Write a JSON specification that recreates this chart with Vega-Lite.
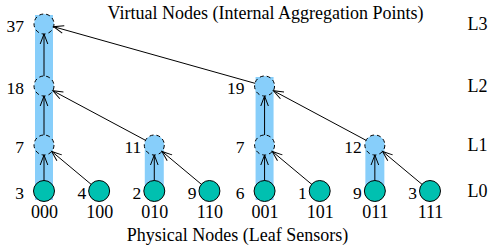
{
  "$schema": "https://vega.github.io/schema/vega-lite/v6.json",
  "width": 467,
  "height": 200,
  "autosize": "none",
  "padding": {"left": 0, "top": 0, "right": 21, "bottom": 49},
  "background": "white",
  "config": {"view": {"stroke": null}, "font": "Liberation Serif"},
  "title": {
    "text": "Virtual Nodes (Internal Aggregation Points)",
    "font": "Liberation Serif", "fontSize": 18, "fontWeight": "normal", "color": "black",
    "anchor": "middle", "frame": "group", "dx": 32, "offset": -37, "baseline": "alphabetic"
  },
  "datasets": {
    "nodes": [
      {"col": "000", "lvl": 0, "v": 3}, {"col": "100", "lvl": 0, "v": 4},
      {"col": "010", "lvl": 0, "v": 2}, {"col": "110", "lvl": 0, "v": 9},
      {"col": "001", "lvl": 0, "v": 6}, {"col": "101", "lvl": 0, "v": 1},
      {"col": "011", "lvl": 0, "v": 9}, {"col": "111", "lvl": 0, "v": 3},
      {"col": "000", "lvl": 1, "v": 7}, {"col": "010", "lvl": 1, "v": 11},
      {"col": "001", "lvl": 1, "v": 7}, {"col": "011", "lvl": 1, "v": 12},
      {"col": "000", "lvl": 2, "v": 18}, {"col": "001", "lvl": 2, "v": 19},
      {"col": "000", "lvl": 3, "v": 37}
    ],
    "edges": [
      {"col": "000", "lvl": 0, "pcol": "000", "plvl": 1},
      {"col": "100", "lvl": 0, "pcol": "000", "plvl": 1},
      {"col": "010", "lvl": 0, "pcol": "010", "plvl": 1},
      {"col": "110", "lvl": 0, "pcol": "010", "plvl": 1},
      {"col": "001", "lvl": 0, "pcol": "001", "plvl": 1},
      {"col": "101", "lvl": 0, "pcol": "001", "plvl": 1},
      {"col": "011", "lvl": 0, "pcol": "011", "plvl": 1},
      {"col": "111", "lvl": 0, "pcol": "011", "plvl": 1},
      {"col": "000", "lvl": 1, "pcol": "000", "plvl": 2},
      {"col": "010", "lvl": 1, "pcol": "000", "plvl": 2},
      {"col": "001", "lvl": 1, "pcol": "001", "plvl": 2},
      {"col": "011", "lvl": 1, "pcol": "001", "plvl": 2},
      {"col": "000", "lvl": 2, "pcol": "000", "plvl": 3},
      {"col": "001", "lvl": 2, "pcol": "000", "plvl": 3}
    ],
    "bars": [
      {"col": "000", "lvl": 0, "top": 3},
      {"col": "010", "lvl": 0, "top": 1},
      {"col": "001", "lvl": 0, "top": 2},
      {"col": "011", "lvl": 0, "top": 1}
    ]
  },
  "encoding": {
    "x": {
      "field": "col", "type": "nominal",
      "scale": {"type": "point", "padding": 0, "domain": ["000", "100", "010", "110", "001", "101", "011", "111"], "range": [44, 430]},
      "axis": {
        "title": "Physical Nodes (Leaf Sensors)", "domain": false, "ticks": false, "grid": false,
        "labelAngle": 0, "labelFont": "Liberation Serif", "labelFontSize": 18, "labelColor": "black",
        "labelPadding": 3, "titleFont": "Liberation Serif", "titleFontSize": 18,
        "titleFontWeight": "normal", "titleColor": "black", "titlePadding": 5
      }
    },
    "y": {
      "field": "lvl", "type": "quantitative",
      "scale": {"domain": [0, 1, 2, 3], "range": [191, 145, 86, 24], "nice": false, "zero": false},
      "axis": {
        "orient": "right", "values": [0, 1, 2, 3], "labelExpr": "'L' + datum.value",
        "domain": false, "ticks": false, "grid": false, "title": null,
        "labelFont": "Liberation Serif", "labelFontSize": 18, "labelColor": "black",
        "labelPadding": 0, "labelAlign": "left", "labelBaseline": "middle"
      }
    }
  },
  "layer": [
    {
      "data": {"name": "bars"},
      "transform": [{"filter": "datum.top > 1"}],
      "mark": {"type": "rule", "color": "#87CEFA", "strokeWidth": 18, "strokeCap": "square"},
      "encoding": {"y2": {"field": "top"}}
    },
    {
      "data": {"name": "bars"},
      "transform": [{"filter": "datum.top <= 1"}],
      "mark": {"type": "rule", "color": "#87CEFA", "strokeWidth": 19, "strokeCap": "round"},
      "encoding": {"y2": {"field": "top"}}
    },
    {
      "data": {"name": "edges"},
      "mark": {"type": "rule", "color": "black", "strokeWidth": 1},
      "encoding": {"x2": {"field": "pcol"}, "y2": {"field": "plvl"}}
    },
    {
      "data": {"name": "nodes"},
      "transform": [{"filter": "datum.lvl > 0"}],
      "mark": {"type": "point", "shape": "circle", "filled": true, "fill": "#87CEFA", "stroke": "black", "strokeWidth": 1, "strokeDash": [4, 3], "size": 400, "opacity": 1}
    },
    {
      "data": {"name": "nodes"},
      "transform": [{"filter": "datum.lvl == 0"}],
      "mark": {"type": "point", "shape": "circle", "filled": true, "fill": "#00C0B0", "stroke": "black", "strokeWidth": 1, "size": 440, "opacity": 1}
    },
    {
      "data": {"name": "edges"},
      "transform": [
        {"calculate": "-atan2(55.14 * (indexof(['000','100','010','110','001','101','011','111'], datum.col) - indexof(['000','100','010','110','001','101','011','111'], datum.pcol)), [191,145,86,24][datum.lvl] - [191,145,86,24][datum.plvl]) * 180 / PI", "as": "ang"}
      ],
      "mark": {"type": "point", "shape": "M-0.38,2L0,1L0.38,2", "filled": false, "stroke": "black", "strokeWidth": 1, "size": 400, "opacity": 1},
      "encoding": {
        "x": {"field": "pcol", "type": "nominal",
              "scale": {"type": "point", "padding": 0, "domain": ["000", "100", "010", "110", "001", "101", "011", "111"], "range": [44, 430]},
              "axis": {
                "title": "Physical Nodes (Leaf Sensors)", "domain": false, "ticks": false, "grid": false,
                "labelAngle": 0, "labelFont": "Liberation Serif", "labelFontSize": 18, "labelColor": "black",
                "labelPadding": 3, "titleFont": "Liberation Serif", "titleFontSize": 18,
                "titleFontWeight": "normal", "titleColor": "black", "titlePadding": 5
              }},
        "y": {"field": "plvl", "type": "quantitative",
              "scale": {"domain": [0, 1, 2, 3], "range": [191, 145, 86, 24], "nice": false, "zero": false},
              "axis": {
                "orient": "right", "values": [0, 1, 2, 3], "labelExpr": "'L' + datum.value",
                "domain": false, "ticks": false, "grid": false, "title": null,
                "labelFont": "Liberation Serif", "labelFontSize": 18, "labelColor": "black",
                "labelPadding": 0, "labelAlign": "left", "labelBaseline": "middle"
              }},
        "angle": {"field": "ang", "type": "quantitative", "scale": null}
      }
    },
    {
      "data": {"name": "nodes"},
      "transform": [{"filter": "indexof(['000','001'], datum.col) >= 0"}],
      "mark": {"type": "text", "align": "right", "baseline": "middle", "dx": -20, "dy": 3, "font": "Liberation Serif", "fontSize": 17.5, "color": "black"},
      "encoding": {"text": {"field": "v"}}
    },
    {
      "data": {"name": "nodes"},
      "transform": [{"filter": "indexof(['000','001'], datum.col) < 0"}],
      "mark": {"type": "text", "align": "right", "baseline": "middle", "dx": -13, "dy": 3, "font": "Liberation Serif", "fontSize": 17.5, "color": "black"},
      "encoding": {"text": {"field": "v"}}
    }
  ]
}
